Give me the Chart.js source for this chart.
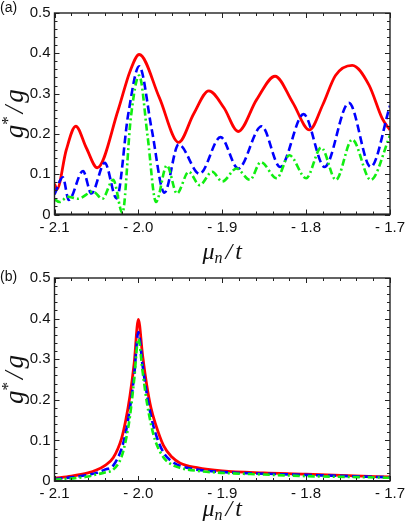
<!DOCTYPE html>
<html>
<head>
<meta charset="utf-8">
<script src="https://cdn.jsdelivr.net/npm/chart.js@4/dist/chart.umd.min.js"></script>
<style>
  html, body { margin: 0; padding: 0; background: #fff; }
  #wrap { position: relative; width: 409px; height: 531px; }
  .panel { position: absolute; left: 0; width: 409px; }
</style>
</head>
<body>
<div id="wrap">
  <div class="panel" style="top:0;height:265px"><canvas id="chartA"></canvas></div>
  <div class="panel" style="top:265px;height:266px"><canvas id="chartB"></canvas></div>
</div>
<script>
// axis ticks
const xTicks = [-2.1, -2.0, -1.9, -1.8, -1.7];
const yTicks = [0, 0.1, 0.2, 0.3, 0.4, 0.5];

// panel (a) - oscillating curves
const redAX = [-2.1, -2.097, -2.086, -2.0746, -2.062, -2.049, -2.024, -2.01, -1.999, -1.975, -1.952, -1.934, -1.916, -1.898, -1.881, -1.859, -1.837, -1.816, -1.796, -1.78, -1.765, -1.745, -1.725, -1.709, -1.7];
const redAY = [0.076, 0.063, 0.16, 0.219, 0.165, 0.116, 0.26, 0.355, 0.397, 0.29, 0.179, 0.25, 0.307, 0.265, 0.206, 0.285, 0.343, 0.278, 0.210, 0.273, 0.345, 0.370, 0.321, 0.237, 0.21];

const blueAX = [-2.1, -2.09, -2.083, -2.066, -2.056, -2.04, -2.026, -2.012, -1.999, -1.984, -1.969, -1.952, -1.927, -1.902, -1.881, -1.853, -1.831, -1.803, -1.778, -1.749, -1.723, -1.7];
const blueAY = [0.05, 0.092, 0.036, 0.108, 0.052, 0.128, 0.040, 0.25, 0.368, 0.21, 0.054, 0.174, 0.101, 0.192, 0.114, 0.219, 0.118, 0.249, 0.118, 0.277, 0.118, 0.27];

const greenAX = [-2.1, -2.094, -2.084, -2.072, -2.054, -2.043, -2.03, -2.019, -2.009, -1.999, -1.989, -1.979, -1.966, -1.954, -1.94, -1.927, -1.912, -1.9, -1.883, -1.867, -1.854, -1.835, -1.82, -1.8, -1.782, -1.7645, -1.745, -1.723, -1.7];
const greenAY = [0.038, 0.031, 0.044, 0.039, 0.057, 0.039, 0.086, 0.004, 0.24, 0.345, 0.194, 0.031, 0.122, 0.052, 0.106, 0.073, 0.106, 0.082, 0.114, 0.086, 0.130, 0.090, 0.147, 0.090, 0.166, 0.086, 0.186, 0.086, 0.196];

// panel (b) - single peak at -2.0
const xB = [-2.1, -2.08, -2.06, -2.05, -2.04, -2.03, -2.02, -2.015, -2.01, -2.005, -2.0, -1.995, -1.99, -1.985, -1.98, -1.97, -1.96, -1.95, -1.93, -1.9, -1.85, -1.8, -1.75, -1.7];
const redB = [0.007, 0.012, 0.02, 0.027, 0.038, 0.057, 0.105, 0.15, 0.21, 0.29, 0.398, 0.31, 0.236, 0.18, 0.143, 0.087, 0.059, 0.044, 0.033, 0.025, 0.02, 0.017, 0.013, 0.010];
const blueB = [0.005, 0.009, 0.015, 0.02, 0.028, 0.038, 0.08, 0.12, 0.18, 0.26, 0.367, 0.285, 0.215, 0.16, 0.12, 0.07, 0.048, 0.037, 0.028, 0.022, 0.018, 0.015, 0.012, 0.009];
const greenB = [0.003, 0.006, 0.011, 0.016, 0.021, 0.028, 0.06, 0.1, 0.16, 0.25, 0.35, 0.27, 0.195, 0.14, 0.1, 0.058, 0.04, 0.032, 0.025, 0.02, 0.016, 0.012, 0.01, 0.008];

const pts = (xs, ys) => xs.map((x, i) => ({ x: x, y: ys[i] }));

const RED = '#ff0000', BLUE = '#0000ff', GREEN = '#11ee11';

function lines(r, b, g) {
  return [
    { data: r, borderColor: RED, borderWidth: 2.8, order: 3 },
    { data: b, borderColor: BLUE, borderWidth: 2.6, borderDash: [8, 4], order: 2 },
    { data: g, borderColor: GREEN, borderWidth: 2.6, borderDash: [7, 3, 2, 3], order: 1 },
  ].map(d => Object.assign(d, { pointRadius: 0, fill: false, cubicInterpolationMode: 'monotone' }));
}

// frame, inward ticks, panel label and axis titles
const framePlugin = {
  id: 'frame',
  afterDatasetsDraw(chart, args, opts) {
    const { ctx, chartArea: a, scales: { x, y } } = chart;
    ctx.save();
    ctx.strokeStyle = '#222';
    ctx.lineWidth = 1;
    ctx.beginPath();
    for (let i = 0; i <= 20; i++) {
      const px = Math.round(x.getPixelForValue(-2.1 + i * 0.02)) + 0.5;
      const len = i % 5 === 0 ? 5 : 3;
      ctx.moveTo(px, a.bottom); ctx.lineTo(px, a.bottom - len);
      ctx.moveTo(px, a.top); ctx.lineTo(px, a.top + len);
    }
    for (let i = 0; i <= 25; i++) {
      const py = Math.round(y.getPixelForValue(i * 0.02)) + 0.5;
      const len = i % 5 === 0 ? 5 : 3;
      ctx.moveTo(a.left, py); ctx.lineTo(a.left + len, py);
      ctx.moveTo(a.right, py); ctx.lineTo(a.right - len, py);
    }
    ctx.stroke();
    ctx.lineWidth = 1.4;
    ctx.strokeRect(a.left, a.top, a.width, a.height);
    ctx.lineWidth = 2;
    ctx.beginPath();
    ctx.moveTo(a.left, a.bottom); ctx.lineTo(a.right, a.bottom);
    ctx.stroke();

    ctx.fillStyle = '#111';
    // panel label
    ctx.font = '14px "Liberation Sans", Arial, sans-serif';
    ctx.textBaseline = 'middle';
    ctx.textAlign = 'left';
    ctx.fillText(opts.label, 0, opts.labelY);

    // x title: mu_n / t
    ctx.textBaseline = 'alphabetic';
    const big = 'italic 24px "Liberation Serif", serif';
    const small = 'italic 16px "Liberation Serif", serif';
    ctx.font = big;
    const w1 = ctx.measureText('\u03bc').width;
    const w3 = ctx.measureText('/').width;
    const w4 = ctx.measureText('t').width;
    ctx.font = small;
    const w2 = ctx.measureText('n').width;
    const gap = 3;
    const cx = (a.left + a.right) / 2;
    let sx = cx - (w1 + w2 + w3 + w4 + 2 * gap) / 2;
    ctx.font = big;
    ctx.fillText('\u03bc', sx, opts.xTitleY);
    ctx.font = small;
    ctx.fillText('n', sx + w1, opts.xTitleY + 4);
    ctx.font = big;
    ctx.fillText('/', sx + w1 + w2 + gap, opts.xTitleY);
    ctx.fillText('t', sx + w1 + w2 + w3 + 2 * gap, opts.xTitleY);

    // y title: g* / g (rotated)
    ctx.translate(opts.yTitleX, (a.top + a.bottom) / 2);
    ctx.rotate(-Math.PI / 2);
    const gb = 'italic 27px "Liberation Serif", serif';
    const gs = '17px "Liberation Serif", serif';
    ctx.font = gb;
    const g1 = ctx.measureText('g').width;
    const g3 = ctx.measureText('/').width;
    ctx.font = gs;
    const g2 = ctx.measureText('*').width;
    let tx = -(g1 * 2 + g2 + g3 + 2 * gap) / 2;
    ctx.font = gb;
    ctx.fillText('g', tx, 0);
    ctx.font = gs;
    ctx.fillText('*', tx + g1, -10);
    ctx.font = gb;
    ctx.fillText('/', tx + g1 + g2 + gap, 0);
    ctx.fillText('g', tx + g1 + g2 + g3 + 2 * gap, 0);
    ctx.restore();
  }
};

function makeChart(id, datasets, padTop, axisH, opts) {
  return new Chart(document.getElementById(id), {
    type: 'line',
    data: { datasets: datasets },
    plugins: [framePlugin],
    options: {
      responsive: true,
      maintainAspectRatio: false,
      animation: false,
      layout: { padding: { top: padTop, right: 16, left: 0, bottom: 0 } },
      plugins: { legend: { display: false }, tooltip: { enabled: false }, frame: opts },
      scales: {
        x: {
          type: 'linear', min: -2.1, max: -1.7,
          grid: { display: false, drawTicks: false }, border: { display: false },
          afterBuildTicks: s => { s.ticks = xTicks.map(v => ({ value: v })); },
          afterFit: s => { s.height = axisH; },
          ticks: {
            padding: 4, color: '#111', maxRotation: 0,
            font: { family: '"Liberation Sans", Arial, sans-serif', size: 15 },
            callback: v => '- ' + Math.abs(v).toFixed(1)
          }
        },
        y: {
          type: 'linear', min: 0, max: 0.5,
          grid: { display: false, drawTicks: false }, border: { display: false },
          afterBuildTicks: s => { s.ticks = yTicks.map(v => ({ value: v })); },
          afterFit: s => { s.width = 54.5; },
          ticks: {
            padding: 4, color: '#111',
            font: { family: '"Liberation Sans", Arial, sans-serif', size: 15 },
            callback: v => v === 0 ? '0' : v.toFixed(1)
          }
        }
      }
    }
  });
}

makeChart('chartA', lines(pts(redAX, redAY), pts(blueAX, blueAY), pts(greenAX, greenAY)), 5, 50.5,
  { label: '(a)', labelY: 8, xTitleY: 259, yTitleX: 23 });
makeChart('chartB', lines(pts(xB, redB), pts(xB, blueB), pts(xB, greenB)), 8.5, 50,
  { label: '(b)', labelY: 12, xTitleY: 251, yTitleX: 23 });
</script>
</body>
</html>
